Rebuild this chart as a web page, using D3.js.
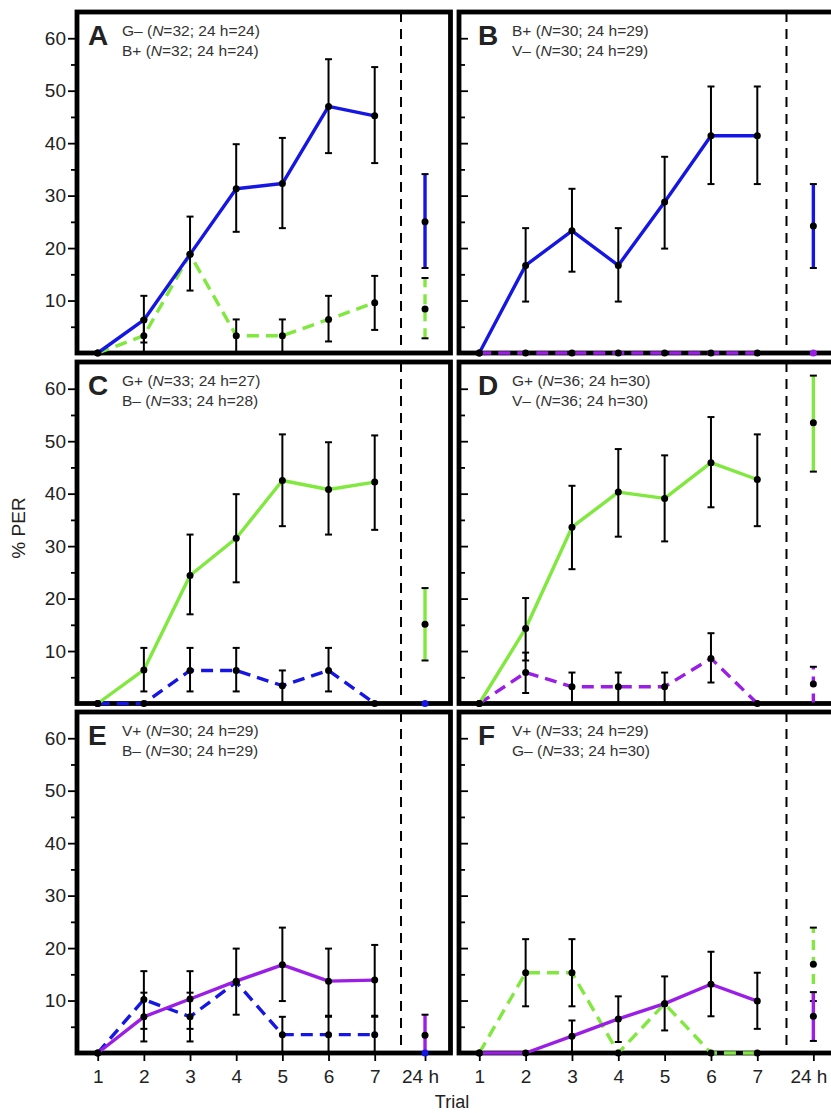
<!DOCTYPE html>
<html>
<head>
<meta charset="utf-8">
<script src="https://cdn.jsdelivr.net/npm/d3@7"></script>
<style>
  body { margin: 0; background: #fff; }
  text { font-family: "Liberation Sans", Arial, sans-serif; }
</style>
</head>
<body>
<div id="chart"></div>
<script>
const width = 831;
const height = 1113;

// categories
const trials = ["1", "2", "3", "4", "5", "6", "7", "24 h"];
const panelIds = ["A", "B", "C", "D", "E", "F"];
const labelsTop = ["G– (N=32; 24 h=24)", "B+ (N=30; 24 h=29)", "G+ (N=33; 24 h=27)", "G+ (N=36; 24 h=30)", "V+ (N=30; 24 h=29)", "V+ (N=33; 24 h=29)"];
const labelsBottom = ["B+ (N=32; 24 h=24)", "V– (N=30; 24 h=29)", "B– (N=33; 24 h=28)", "V– (N=36; 24 h=30)", "B– (N=30; 24 h=29)", "G– (N=33; 24 h=30)"];
const yMajor = [10, 20, 30, 40, 50, 60];
const yMinor = [5, 15, 25, 35, 45, 55];

// % PER per trial (1-7, then 24 h), with error bar ends (null = no bar)
const aSolidMean = [0, 6.3, 18.8, 31.3, 32.3, 47.0, 45.2, 25.0];
const aSolidLow  = [null, 2.0, 11.9, 23.1, 23.8, 38.1, 36.2, 16.2];
const aSolidHigh = [null, 10.9, 26.0, 39.8, 41.0, 56.0, 54.5, 34.1];
const aDashMean  = [0, 3.3, 18.8, 3.3, 3.3, 6.4, 9.6, 8.4];
const aDashLow   = [null, 0, null, 0, 0, 2.2, 4.4, 2.8];
const aDashHigh  = [null, 6.4, null, 6.4, 6.4, 10.9, 14.7, 14.3];

const bSolidMean = [0, 16.7, 23.3, 16.7, 28.8, 41.4, 41.4, 24.2];
const bSolidLow  = [null, 9.8, 15.5, 9.8, 19.9, 32.2, 32.2, 16.2];
const bSolidHigh = [null, 23.8, 31.3, 23.8, 37.4, 50.8, 50.8, 32.2];
const bDashMean  = [0, 0, 0, 0, 0, 0, 0, 0];
const bDashLow   = [null, null, null, null, null, null, null, null];
const bDashHigh  = [null, null, null, null, null, null, null, null];

const cSolidMean = [0, 6.4, 24.4, 31.5, 42.5, 40.8, 42.2, 15.1];
const cSolidLow  = [null, 2.3, 17.0, 23.1, 33.8, 32.2, 33.1, 8.2];
const cSolidHigh = [null, 10.6, 32.2, 39.9, 51.3, 49.8, 51.1, 22.0];
const cDashMean  = [0, 0, 6.3, 6.3, 3.4, 6.3, 0, 0];
const cDashLow   = [null, null, 2.3, 2.3, 0, 2.3, null, null];
const cDashHigh  = [null, null, 10.6, 10.6, 6.3, 10.6, null, null];

const dSolidMean = [0, 14.3, 33.6, 40.3, 39.1, 45.9, 42.7, 53.5];
const dSolidLow  = [null, 8.2, 25.6, 31.8, 30.9, 37.4, 33.8, 44.2];
const dSolidHigh = [null, 20.1, 41.5, 48.5, 47.3, 54.6, 51.3, 62.5];
const dDashMean  = [0, 5.9, 3.2, 3.2, 3.2, 8.6, 0, 3.7];
const dDashLow   = [null, 2.0, 0, 0, 0, 4.0, null, 0];
const dDashHigh  = [null, 9.7, 5.9, 5.9, 5.9, 13.4, null, 7.0];

const eSolidMean = [0, 6.9, 10.3, 13.7, 16.8, 13.7, 13.9, 3.4];
const eSolidLow  = [null, 2.2, 4.6, 7.3, 9.9, 7.1, 7.1, 0];
const eSolidHigh = [null, 11.5, 15.6, 19.9, 23.9, 19.9, 20.6, 7.3];
const eDashMean  = [0, 10.2, 6.9, 13.5, 3.5, 3.5, 3.5, 0];
const eDashLow   = [null, 4.6, 2.2, null, 0, 0, 0, null];
const eDashHigh  = [null, 15.6, 11.5, null, 6.9, 6.9, 6.9, null];

const fSolidMean = [0, 0, 3.2, 6.5, 9.4, 13.1, 9.9, 7.0];
const fSolidLow  = [null, null, 0, 2.1, 4.3, 7.0, 4.6, 2.3];
const fSolidHigh = [null, null, 6.2, 10.8, 14.6, 19.3, 15.3, 11.6];
const fDashMean  = [0, 15.3, 15.3, 0, 9.4, 0, 0, 16.9];
const fDashLow   = [null, 8.9, 8.9, null, null, null, null, 9.9];
const fDashHigh  = [null, 21.7, 21.7, null, null, null, null, 23.9];

const blue = "#1616e4";
const green = "#80e83e";
const purple = "#9a1ee6";

const panels = [
    { id: 0, col: 0, row: 0, solid: [aSolidMean, aSolidLow, aSolidHigh, blue], dash: [aDashMean, aDashLow, aDashHigh, green] },
    { id: 1, col: 1, row: 0, solid: [bSolidMean, bSolidLow, bSolidHigh, blue], dash: [bDashMean, bDashLow, bDashHigh, purple] },
    { id: 2, col: 0, row: 1, solid: [cSolidMean, cSolidLow, cSolidHigh, green], dash: [cDashMean, cDashLow, cDashHigh, blue] },
    { id: 3, col: 1, row: 1, solid: [dSolidMean, dSolidLow, dSolidHigh, green], dash: [dDashMean, dDashLow, dDashHigh, purple] },
    { id: 4, col: 0, row: 2, solid: [eSolidMean, eSolidLow, eSolidHigh, purple], dash: [eDashMean, eDashLow, eDashHigh, blue] },
    { id: 5, col: 1, row: 2, solid: [fSolidMean, fSolidLow, fSolidHigh, purple], dash: [fDashMean, fDashLow, fDashHigh, green] },
];

// panel layout (trial positions in trial units, 24 h sits past the separator)
const cols = [
    { left: 77, right: 450.5, x1: 97.7, x7: 374.7, pos24: 8.09, sep: 7.57, letterX: 88, textX: 122 },
    { left: 459, right: 845, x1: 479.3, x7: 757.3, pos24: 8.21, sep: 7.63, letterX: 478, textX: 512 }
];
const rows = [{ top: 12, base: 353 }, { top: 362, base: 703.5 }, { top: 712, base: 1053 }];

const svg = d3.select("#chart")
    .append("svg")
    .attr("width", width)
    .attr("height", height);

svg.append("rect").attr("width", width).attr("height", height).attr("fill", "#fff");

panels.forEach(p => {
    const c = cols[p.col];
    const r = rows[p.row];
    const x = d3.scaleLinear().domain([1, 7]).range([c.x1, c.x7]);
    const y = d3.scaleLinear().domain([0, 65]).range([r.base, r.base - 341]);
    const pos = trials.map((t, i) => i < 7 ? i + 1 : c.pos24);
    const g = svg.append("g");

    // frame
    g.append("rect")
        .attr("x", c.left).attr("y", r.top)
        .attr("width", c.right - c.left).attr("height", r.base - r.top)
        .attr("fill", "none").attr("stroke", "#000").attr("stroke-width", 4.8);

    // y ticks
    const labelled = p.col === 0;
    const mk = (vals, size, labels) => {
        const ax = labelled ? d3.axisLeft(y) : d3.axisRight(y);
        ax.tickValues(vals).tickSize(size).tickPadding(2)
            .tickFormat(labels ? d3.format("d") : "");
        const a = g.append("g")
            .attr("transform", `translate(${labelled ? c.left - 2 : c.left + 2},0)`)
            .call(ax);
        a.select(".domain").remove();
        a.selectAll("line").attr("stroke", "#000").attr("stroke-width", 1.8);
        a.selectAll("text").attr("font-size", 19).attr("fill", "#222")
            .attr("font-family", "'Liberation Sans', Arial, sans-serif");
    };
    mk(yMinor, 4, false);
    mk(yMajor, 7, labelled);

    // x ticks on bottom row
    if (p.row === 2) {
        const xa = g.append("g")
            .attr("transform", `translate(0,${r.base + 2})`)
            .call(d3.axisBottom(x).tickValues(pos).tickSize(6).tickPadding(9)
                .tickFormat((d, i) => trials[i]));
        xa.select(".domain").remove();
        xa.selectAll("line").attr("stroke", "#000").attr("stroke-width", 1.8);
        xa.selectAll("text").attr("font-size", 19).attr("fill", "#222")
            .attr("font-family", "'Liberation Sans', Arial, sans-serif")
            .attr("dx", (d, i) => i === 7 ? -5 : 0);
    }

    // separator before 24 h
    g.append("line")
        .attr("x1", x(c.sep)).attr("x2", x(c.sep))
        .attr("y1", r.top).attr("y2", r.base)
        .attr("stroke", "#000").attr("stroke-width", 2)
        .attr("stroke-dasharray", "10,7");

    const series = [
        { s: p.dash, dashed: true },
        { s: p.solid, dashed: false }
    ];

    // lines over trials 1-7
    const line = d3.line().x(d => x(d[0])).y(d => y(d[1]));
    series.forEach(({ s, dashed }) => {
        const pts = s[0].slice(0, 7).map((v, i) => [pos[i], v]);
        g.append("path")
            .attr("d", line(pts))
            .attr("fill", "none")
            .attr("stroke", s[3])
            .attr("stroke-width", 3.4)
            .attr("stroke-linejoin", "round")
            .attr("stroke-dasharray", dashed ? "12,7" : null);
    });

    // error bars
    series.forEach(({ s, dashed }) => {
        s[0].forEach((v, i) => {
            const lo = s[1][i], hi = s[2][i];
            if (lo === null || hi === null) return;
            const cx = x(pos[i]);
            const is24 = i === 7;
            g.append("line")
                .attr("x1", cx).attr("x2", cx)
                .attr("y1", y(lo)).attr("y2", y(hi))
                .attr("stroke", is24 ? s[3] : "#000")
                .attr("stroke-width", is24 ? 3.4 : 2)
                .attr("stroke-dasharray", is24 && dashed ? "10,7" : null);
            [lo, hi].forEach(e => {
                g.append("line")
                    .attr("x1", cx - 3.5).attr("x2", cx + 3.5)
                    .attr("y1", y(e)).attr("y2", y(e))
                    .attr("stroke", "#000").attr("stroke-width", 2);
            });
        });
    });

    // points
    series.forEach(({ s }) => {
        g.selectAll(null)
            .data(s[0])
            .enter().append("circle")
            .attr("cx", (d, i) => x(pos[i]))
            .attr("cy", d => y(d))
            .attr("r", 3.5)
            .attr("fill", (d, i) => i === 7 && d === 0 ? s[3] : "#000");
    });

    // panel letter
    g.append("text")
        .attr("x", c.letterX).attr("y", r.top + 33)
        .attr("font-size", 28).attr("font-weight", "bold").attr("fill", "#222")
        .text(panelIds[p.id]);

    // group labels
    [labelsTop[p.id], labelsBottom[p.id]].forEach((lab, k) => {
        const parts = lab.split("N=");
        const t = g.append("text")
            .attr("x", c.textX).attr("y", r.top + 24 + k * 19.5)
            .attr("font-size", 15.5).attr("fill", "#333");
        t.append("tspan").text(parts[0]);
        t.append("tspan").attr("font-style", "italic").text("N");
        t.append("tspan").text("=" + parts[1]);
    });
});

svg.append("text")
    .attr("x", 452).attr("y", 1108)
    .attr("text-anchor", "middle")
    .attr("font-size", 18).attr("fill", "#222")
    .text("Trial");

svg.append("text")
    .attr("transform", "translate(25,528) rotate(-90)")
    .attr("text-anchor", "middle")
    .attr("font-size", 19).attr("fill", "#222")
    .text("% PER");
</script>
</body>
</html>
